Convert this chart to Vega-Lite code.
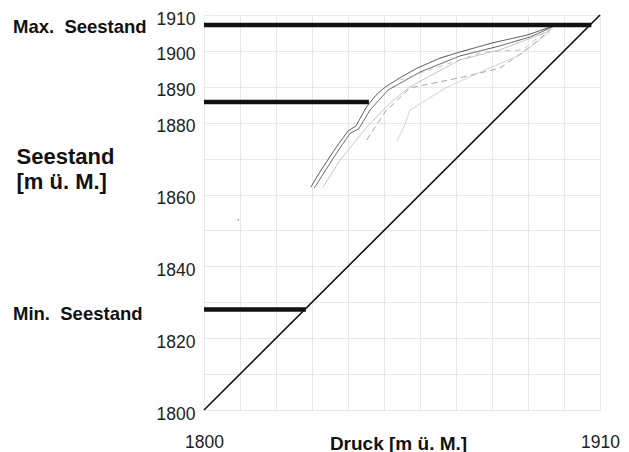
{
  "$schema": "https://vega.github.io/schema/vega-lite/v6.json",
  "width": 396,
  "height": 395,
  "autosize": {"type": "none"},
  "padding": {"left": 204, "top": 15, "right": 29, "bottom": 42},
  "background": "white",
  "config": {"view": {"stroke": null}, "font": "Liberation Sans"},
  "datasets": {
    "diag": [{"x": 1800, "y": 1800}, {"x": 1910, "y": 1910}],
    "rules": [
      {"x": 1800, "x2": 1907.6, "y": 1907.2},
      {"x": 1800, "x2": 1845.8, "y": 1885.8},
      {"x": 1800, "x2": 1828.3, "y": 1828.0}
    ],
    "labels": [
      {"x": 1800, "y": 1907.6, "t": "Max.\u00a0 Seestand"},
      {"x": 1800, "y": 1827.5, "t": "Min.\u00a0 Seestand"}
    ],
    "dot": [{"x": 1809.5, "y": 1853}],
    "curves": [
      {"s": "A", "x": 1829.7, "y": 1862.1},
      {"s": "A", "x": 1832.2, "y": 1866.3},
      {"s": "A", "x": 1836.4, "y": 1872.7},
      {"s": "A", "x": 1840.0, "y": 1877.7},
      {"s": "A", "x": 1840.8, "y": 1878.2},
      {"s": "A", "x": 1842.2, "y": 1879.1},
      {"s": "A", "x": 1845.2, "y": 1884.5},
      {"s": "A", "x": 1847.8, "y": 1887.7},
      {"s": "A", "x": 1850.3, "y": 1889.9},
      {"s": "A", "x": 1854.4, "y": 1892.5},
      {"s": "A", "x": 1859.2, "y": 1895.2},
      {"s": "A", "x": 1865.6, "y": 1898.0},
      {"s": "A", "x": 1871.1, "y": 1899.7},
      {"s": "A", "x": 1880.0, "y": 1902.2},
      {"s": "A", "x": 1889.7, "y": 1904.4},
      {"s": "A", "x": 1896.9, "y": 1906.9},
      {"s": "A", "x": 1897.8, "y": 1907.3},
      {"s": "B", "x": 1830.6, "y": 1861.8},
      {"s": "B", "x": 1837.0, "y": 1871.8},
      {"s": "B", "x": 1840.6, "y": 1877.1},
      {"s": "B", "x": 1841.9, "y": 1877.7},
      {"s": "B", "x": 1843.0, "y": 1878.3},
      {"s": "B", "x": 1846.1, "y": 1883.5},
      {"s": "B", "x": 1851.1, "y": 1889.1},
      {"s": "B", "x": 1860.0, "y": 1894.1},
      {"s": "B", "x": 1871.1, "y": 1898.6},
      {"s": "B", "x": 1882.2, "y": 1901.4},
      {"s": "B", "x": 1890.6, "y": 1903.9},
      {"s": "B", "x": 1896.9, "y": 1906.7},
      {"s": "C", "x": 1833.0, "y": 1862.0},
      {"s": "C", "x": 1837.8, "y": 1869.6},
      {"s": "C", "x": 1845.2, "y": 1878.8},
      {"s": "C", "x": 1851.7, "y": 1885.5},
      {"s": "C", "x": 1857.2, "y": 1890.0},
      {"s": "C", "x": 1871.1, "y": 1897.5},
      {"s": "C", "x": 1882.2, "y": 1900.3},
      {"s": "C", "x": 1895.3, "y": 1905.3},
      {"s": "C", "x": 1896.9, "y": 1906.6},
      {"s": "D", "x": 1845.2, "y": 1875.2},
      {"s": "D", "x": 1850.3, "y": 1883.0},
      {"s": "D", "x": 1857.2, "y": 1889.7},
      {"s": "D", "x": 1871.9, "y": 1892.7},
      {"s": "D", "x": 1882.2, "y": 1895.2},
      {"s": "D", "x": 1890.6, "y": 1901.1},
      {"s": "D", "x": 1896.1, "y": 1905.8},
      {"s": "E", "x": 1853.5, "y": 1874.7},
      {"s": "E", "x": 1855.8, "y": 1879.4},
      {"s": "E", "x": 1857.2, "y": 1883.5},
      {"s": "E", "x": 1867.5, "y": 1889.9},
      {"s": "E", "x": 1876.7, "y": 1894.1},
      {"s": "E", "x": 1887.8, "y": 1898.9},
      {"s": "E", "x": 1896.1, "y": 1905.3},
      {"s": "F", "x": 1854.4, "y": 1891.9},
      {"s": "F", "x": 1860.0, "y": 1893.8},
      {"s": "F", "x": 1877.5, "y": 1899.7},
      {"s": "F", "x": 1888.6, "y": 1900.3},
      {"s": "F", "x": 1895.3, "y": 1905.8}
    ]
  },
  "encoding": {
    "x": {
      "field": "x", "type": "quantitative",
      "scale": {"domain": [1800, 1910], "nice": false, "zero": false},
      "axis": {
        "values": [1800, 1810, 1820, 1830, 1840, 1850, 1860, 1870, 1880, 1890, 1900, 1910],
        "format": "d",
        "labelExpr": "datum.value == 1800 || datum.value == 1910 ? datum.label : ''",
        "grid": true, "gridColor": "#e2e2e2", "gridWidth": 0.8,
        "domain": false, "ticks": false,
        "labelPadding": 23, "labelFontSize": 17.5, "labelColor": "#222",
        "labelFont": "Liberation Sans", "labelOverlap": false, "labelFlush": false,
        "title": "Druck [m ü. M.]",
        "titleFont": "Liberation Sans", "titleFontSize": 19, "titleFontWeight": "bold",
        "titleColor": "#111",
        "titleX": 194, "titleY": 39, "titleBaseline": "alphabetic", "titleAlign": "center"
      }
    },
    "y": {
      "field": "y", "type": "quantitative",
      "scale": {"domain": [1800, 1910], "nice": false, "zero": false},
      "axis": {
        "values": [1800, 1810, 1820, 1830, 1840, 1850, 1860, 1870, 1880, 1890, 1900, 1910],
        "format": "d",
        "labelExpr": "datum.value == 1810 || datum.value == 1830 || datum.value == 1850 || datum.value == 1870 ? '' : datum.label",
        "grid": true, "gridColor": "#e2e2e2", "gridWidth": 0.8,
        "domain": false, "ticks": false,
        "labelPadding": 9, "labelOffset": 4, "labelFontSize": 17.5, "labelColor": "#222",
        "labelFont": "Liberation Sans", "labelOverlap": false, "labelFlush": false,
        "title": ["Seestand", "[m ü. M.]"],
        "titleFont": "Liberation Sans", "titleFontSize": 22, "titleFontWeight": "bold",
        "titleColor": "#111", "titleAngle": 0, "titleAlign": "left",
        "titleBaseline": "top", "titleLineHeight": 25,
        "titleX": -188, "titleY": 131
      }
    }
  },
  "layer": [
    {
      "data": {"name": "diag"},
      "mark": {"type": "line", "color": "#111", "strokeWidth": 1.6}
    },
    {
      "data": {"name": "curves"},
      "mark": {"type": "line", "strokeWidth": 0.9},
      "encoding": {
        "detail": {"field": "s"},
        "color": {
          "field": "s", "type": "nominal", "legend": null,
          "scale": {"domain": ["A", "B", "C", "D", "E", "F"], "range": ["#333", "#444", "#b5b5b5", "#999", "#c8c8c8", "#bbbbbb"]}
        },
        "strokeDash": {
          "field": "s", "type": "nominal", "legend": null,
          "scale": {"domain": ["A", "B", "C", "D", "E", "F"], "range": [[1, 0], [1, 0], [1, 0], [6, 4], [1, 0], [5, 5]]}
        }
      }
    },
    {
      "data": {"name": "rules"},
      "mark": {"type": "rule", "color": "#111", "strokeWidth": 4.5},
      "encoding": {
        "x2": {"field": "x2"}
      }
    },
    {
      "data": {"name": "dot"},
      "mark": {"type": "point", "filled": true, "size": 4, "color": "#888"}
    },
    {
      "data": {"name": "labels"},
      "mark": {"type": "text", "align": "left", "baseline": "middle", "dx": -191, "dy": 3, "fontSize": 18.5, "fontWeight": "bold", "font": "Liberation Sans", "color": "#111", "clip": false},
      "encoding": {
        "text": {"field": "t"}
      }
    }
  ]
}
